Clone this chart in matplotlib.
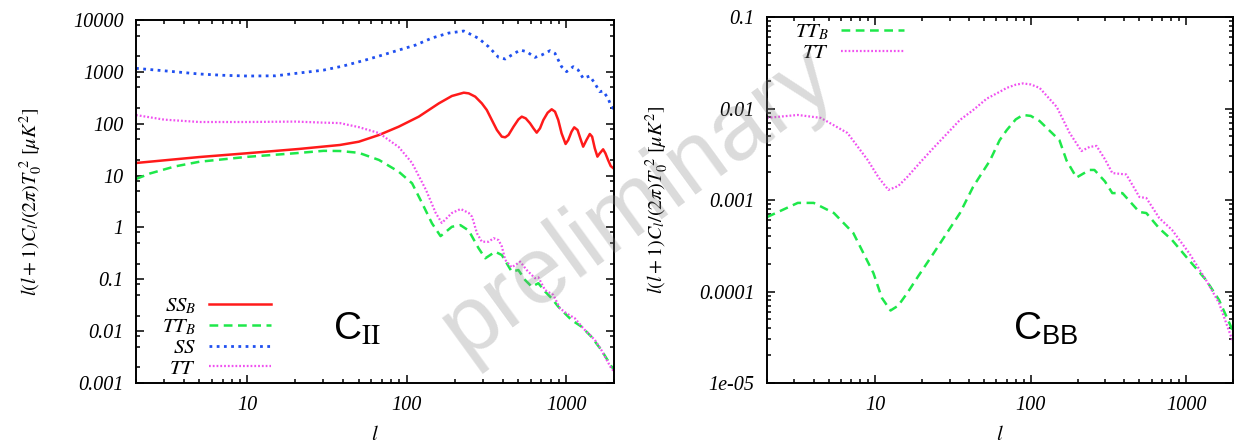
import numpy as np
import matplotlib
matplotlib.use("Agg")
import matplotlib.pyplot as plt
from matplotlib.ticker import LogLocator, NullFormatter

plt.rcParams["font.family"] = ["Liberation Serif", "DejaVu Serif"]
plt.rcParams["mathtext.fontset"] = "stix"

# ---- left panel: C_II ----
L_SSB = [2, 5, 10, 21, 38, 50, 67, 89, 119, 159, 192, 228, 245, 269, 296, 318, 342,
         368, 395, 415, 435, 468, 502, 527, 558, 594, 624, 654, 686, 720, 766, 812,
         852, 893, 937, 993, 1032, 1082, 1125, 1180, 1238, 1280, 1343, 1409, 1457,
         1514, 1573, 1627, 1708, 1766, 1834, 1906, 2000]
SSB = [17.5, 22.8, 27, 32.6, 38.9, 45, 60.7, 87.7, 137, 247, 343, 397, 385, 333, 247,
       184, 118, 75.7, 56.3, 54.7, 60.7, 87.8, 121, 137, 127, 102, 81.5, 67.3, 81.5,
       118, 163, 190, 171, 118, 65.3, 40.7, 48.6, 70.3, 85.3, 75.7, 48.6, 36.1, 48.6,
       63.4, 56.3, 33.6, 23.2, 26.9, 32.1, 26.9, 20, 15.3, 13.5]

L_TTB = [2, 2.45, 3.5, 5, 10, 20, 30, 38, 50, 67, 89, 108, 125, 144, 163, 192, 217,
         245, 282, 311, 359, 395, 456, 502, 553, 609, 670, 738, 812, 893, 983, 1082,
         1250, 1442, 1667, 1924, 2000]
TTB = [8.6, 11, 15, 18.5, 23, 27, 30, 29.8, 27.5, 20, 11.9, 7.1, 2.92, 1.2, 0.68,
       1.03, 1.11, 0.87, 0.40, 0.254, 0.34, 0.294, 0.14, 0.151, 0.097, 0.072, 0.084,
       0.058, 0.043, 0.0297, 0.022, 0.0164, 0.0122, 0.0078, 0.0043, 0.0021, 0.0018]

L_SS = [2, 3, 5, 7, 10, 15, 21, 30, 40, 55, 70, 89, 114, 144, 183, 228, 245, 282,
        326, 377, 415, 456, 515, 566, 638, 703, 793, 852, 937, 1007, 1109, 1191,
        1280, 1409, 1514, 1627, 1708, 1834, 1924, 2000]
SS = [1170, 1050, 910, 860, 832, 840, 950, 1080, 1300, 1690, 2100, 2630, 3300, 4500,
      5600, 6140, 5530, 4440, 3060, 1905, 1770, 2115, 2640, 2450, 1905, 2115, 2565,
      2275, 1260, 1010, 1260, 1086, 750, 832, 601, 415, 428, 309, 213, 190]

L_TT = [2, 3, 5, 10, 20, 30, 38, 50, 67, 89, 108, 132, 152, 166, 192, 218, 245, 257,
        276, 296, 326, 351, 377, 395, 415, 456, 515, 566, 638, 670, 738, 832, 915,
        1007, 1135, 1312, 1514, 1667, 1924, 2000]
TT = [147, 120, 108, 108, 110, 105, 103, 86, 66, 35.6, 17.5, 5.3, 1.9, 1.22, 1.9,
      2.27, 1.9, 1.61, 0.77, 0.53, 0.53, 0.62, 0.57, 0.43, 0.236, 0.17, 0.219, 0.151,
      0.105, 0.109, 0.062, 0.05, 0.0276, 0.022, 0.0177, 0.0105, 0.0068, 0.0043,
      0.0019, 0.0017]

# ---- right panel: C_BB ----
L_BB_TTB = [2, 3.16, 4.0, 5.4, 7.2, 9.7, 11, 12.5, 14, 16, 19, 23.6, 35, 42.5, 54.6,
            63, 70, 80, 89, 100, 114, 153, 170, 197, 239, 257, 300, 335, 389, 500, 555,
            672, 813, 1045, 1343, 1629, 1950, 2000]
BB_TTB = [0.00065, 0.00093, 0.00093, 0.00072, 0.000435, 0.000159, 8.5e-5, 6.2e-5,
          7.0e-5, 9.6e-5, 0.00015, 0.00026, 0.00072, 0.00139, 0.0027, 0.0045, 0.0058,
          0.0076, 0.0085, 0.0083, 0.0073, 0.0045, 0.0027, 0.00176, 0.00213, 0.00213,
          0.0016, 0.00119, 0.00119, 0.00074, 0.00072, 0.00049, 0.000365, 0.00022,
          0.000134, 8.1e-5, 4.1e-5, 3.7e-5]

L_BB_TT = [2, 3.16, 4.44, 6.6, 8.9, 10.5, 12.1, 14, 16, 19.5, 23.6, 35, 42.5, 52, 63,
           70, 80, 89, 100, 114, 147, 178, 212, 239, 265, 300, 335, 412, 470, 500, 555,
           672, 813, 1045, 1343, 1629, 1950, 2000]
BB_TT = [0.0079, 0.0085, 0.0079, 0.0054, 0.00274, 0.00175, 0.00129, 0.00142, 0.00178,
         0.0026, 0.0037, 0.0075, 0.0096, 0.0128, 0.0152, 0.0168, 0.0182, 0.0188,
         0.0183, 0.0168, 0.0104, 0.0054, 0.00343, 0.0038, 0.0039, 0.0028, 0.00197,
         0.0019, 0.0013, 0.00108, 0.00105, 0.000635, 0.00047, 0.000264, 0.000134,
         7.5e-5, 3.2e-5, 2.8e-5]

LEFT_YTICKS = [0.001, 0.01, 0.1, 1, 10, 100, 1000, 10000]
LEFT_YLABELS = ["0.001", "0.01", "0.1", "1", "10", "100", "1000", "10000"]
RIGHT_YTICKS = [1e-5, 1e-4, 1e-3, 1e-2, 1e-1]
RIGHT_YLABELS = ["1e-05", "0.0001", "0.001", "0.01", "0.1"]
XTICKS = [10, 100, 1000]
XLABELS = ["10", "100", "1000"]

RED = "#ff1a1a"
GREEN = "#1ee84a"
BLUE = "#2050f0"
MAGENTA = "#f050f0"
YLABEL = r"$l(l+1)C_l/(2\pi)T_0^{\ 2}\ [\mu K^2]$"
TICK_SIZE = 14.5


def style_axes(ax, yticks, ylabels, ysubs):
    ax.set_xscale("log")
    ax.set_yscale("log")
    ax.set_xlim(2, 2000)
    ax.set_xticks(XTICKS, XLABELS, fontstyle="italic", fontsize=TICK_SIZE)
    ax.set_yticks(yticks, ylabels, fontstyle="italic", fontsize=TICK_SIZE)
    ax.xaxis.set_minor_locator(LogLocator(base=10, subs=np.arange(2, 10)))
    ax.yaxis.set_minor_locator(LogLocator(base=10, subs=ysubs))
    ax.xaxis.set_minor_formatter(NullFormatter())
    ax.yaxis.set_minor_formatter(NullFormatter())
    ax.tick_params(which="both", direction="in", top=True, right=True, width=1.1)
    ax.tick_params(which="major", length=6, pad=9)
    ax.tick_params(which="minor", length=3)
    for s in ax.spines.values():
        s.set_linewidth(1.4)
    ax.set_xlabel(r"$l$", fontsize=15, labelpad=8)


fig = plt.figure(figsize=(12.39, 4.45), dpi=100)

ax1 = fig.add_axes([0.1098, 0.1393, 0.3858, 0.8157])
ax1.plot(L_SSB, SSB, color=RED, lw=1.8, label=r"$SS_B$")
ax1.plot(L_TTB, TTB, color=GREEN, lw=1.8, dashes=(3.5, 2.2), label=r"$TT_B$")
ax1.plot(L_SS, SS, color=BLUE, lw=2.0, dashes=(1, 1.6), label=r"$SS$")
ax1.plot(L_TT, TT, color=MAGENTA, lw=1.6, dashes=(0.8, 0.9), label=r"$TT$")
ax1.set_ylim(0.001, 10000)
style_axes(ax1, LEFT_YTICKS, LEFT_YLABELS, (2, 5, 8))
ax1.set_ylabel(YLABEL, fontsize=14.5, labelpad=20)
ax1.legend(loc="lower left", bbox_to_anchor=(0.055, 0.012), frameon=False,
           markerfirst=False, fontsize=15, handlelength=3.0, handletextpad=0.6,
           labelspacing=0.05, borderpad=0, borderaxespad=0)
ax1.text(0.412, 0.146, r"C$_{\mathrm{II}}$", transform=ax1.transAxes, fontsize=28,
         family="Liberation Sans", va="center", ha="left")

ax2 = fig.add_axes([0.619, 0.1393, 0.376, 0.8225])
ax2.plot(L_BB_TTB, BB_TTB, color=GREEN, lw=1.8, dashes=(3.5, 2.2), label=r"$TT_B$")
ax2.plot(L_BB_TT, BB_TT, color=MAGENTA, lw=1.6, dashes=(0.8, 0.9), label=r"$TT$")
ax2.set_ylim(1e-5, 0.1)
style_axes(ax2, RIGHT_YTICKS, RIGHT_YLABELS, np.arange(2, 10))
ax2.set_ylabel(YLABEL, fontsize=14.5, labelpad=20)
ax2.legend(loc="upper left", bbox_to_anchor=(0.06, 0.985), frameon=False,
           markerfirst=False, fontsize=15, handlelength=3.0, handletextpad=0.6,
           labelspacing=0.05, borderpad=0, borderaxespad=0)
ax2.text(0.528, 0.145, r"C$_{\mathregular{BB}}$", transform=ax2.transAxes,
         fontsize=28, family="Liberation Sans", va="center", ha="left")

# watermark
fig.text(0.515, 0.545, "preliminary", fontsize=68, family="Liberation Sans",
         color="#888888", alpha=0.3, rotation=36, ha="center", va="center")

fig.savefig("out.png", dpi=100)
